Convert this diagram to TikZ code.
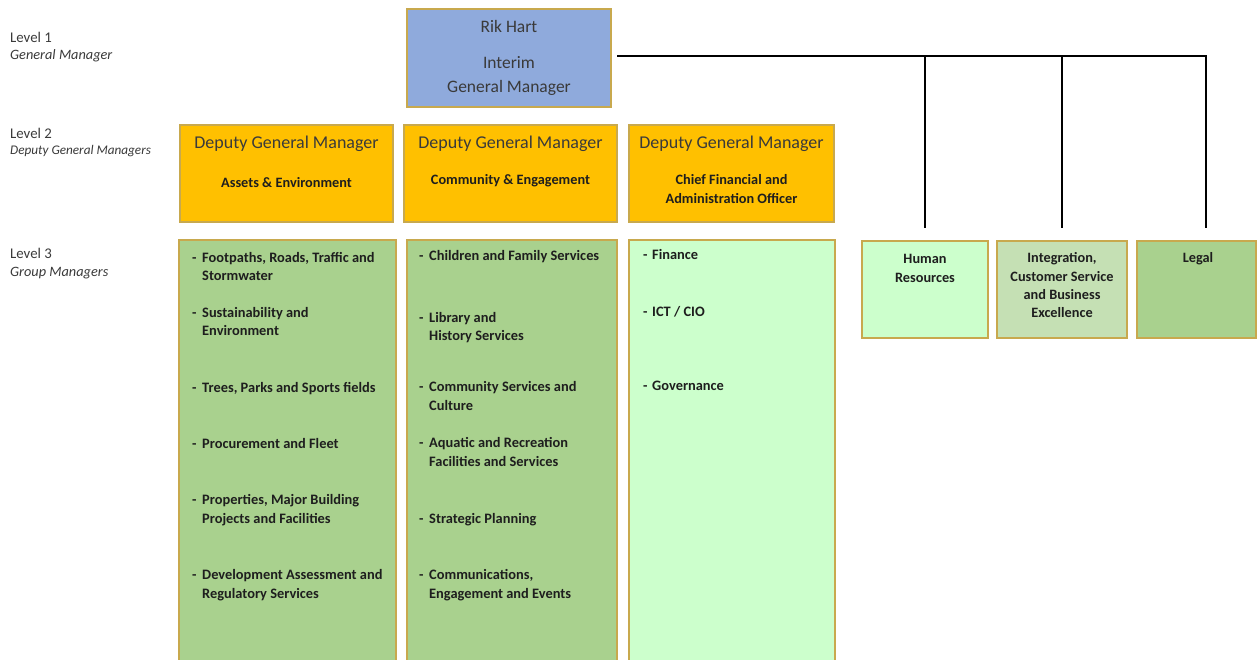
\documentclass[tikz,border=0pt]{standalone}
\usepackage{fontspec}
\setmainfont{Carlito}
\definecolor{bordc}{HTML}{C8A94E}
\definecolor{gmfill}{HTML}{8FAADC}
\definecolor{dgmfill}{HTML}{FFC000}
\definecolor{grn}{HTML}{A9D18E}
\definecolor{lgrn}{HTML}{CCFFCC}
\definecolor{mgrn}{HTML}{C5E0B4}
\definecolor{txtd}{HTML}{3A3A3A}
\definecolor{txtb}{HTML}{1E1E1E}
\newcommand\itemline[5]{\node[itm] (#1-d) at (#2,#4) {-};\node[itm] (#1) at (#3,#4) {#5};}
\newcommand\contline[4]{\node[itm] (#1) at (#2,#3) {#4};}
\begin{document}
\begin{tikzpicture}[x=1pt,y=-1pt,
  box/.style={draw=bordc, line width=1.2pt, inner sep=0pt, outer sep=0pt, anchor=north west},
  lvl/.style={font=\fontsize{14.8}{16}\selectfont, anchor=base west, inner sep=0pt, text=txtd},
  lvli/.style={font=\fontsize{14.3}{16}\selectfont\itshape, anchor=base west, inner sep=0pt, text=txtd},
  big/.style={font=\fontsize{18}{20}\selectfont, anchor=base, inner sep=0pt, text=txtd},
  sub/.style={font=\fontsize{14.3}{16}\selectfont\bfseries, anchor=base, inner sep=0pt, text=txtb},
  itm/.style={font=\fontsize{14.4}{16}\selectfont\bfseries, anchor=base west, inner sep=0pt, text=txtb},
  conn/.style={line width=2.4pt, black}]
\useasboundingbox (0,0) rectangle (1258,659);
\clip (0,0) rectangle (1258,659);
\fill[white] (0,0) rectangle (1258,659);

% level labels
\node[lvl] (l1) at (10,42) {Level 1};
\node[lvli] (l1s) at (10,59) {General Manager};
\node[lvl] (l2) at (10,138) {Level 2};
\node[lvli, font=\fontsize{13.2}{15}\selectfont\itshape] (l2s) at (10,154) {Deputy General Managers};
\node[lvl] (l3) at (10,258) {Level 3};
\node[lvli] (l3s) at (10,276) {Group Managers};

% level 1
\node[box, fill=gmfill, minimum width=204pt, minimum height=98pt] (gm) at (407,9) {};
\node[big, font=\fontsize{17.5}{20}\selectfont] (gm1) at (509,32) {Rik Hart};
\node[big, font=\fontsize{17.5}{20}\selectfont] (gm2) at (509,68) {Interim};
\node[big, font=\fontsize{17.5}{20}\selectfont] (gm3) at (509,92) {General Manager};

% level 2
\node[box, fill=dgmfill, minimum width=213pt, minimum height=97pt] (d1) at (180,125) {};
\node[box, fill=dgmfill, minimum width=213pt, minimum height=97pt] (d2) at (404,125) {};
\node[box, fill=dgmfill, minimum width=205pt, minimum height=97pt] (d3) at (629,125) {};
\node[big] (d1t) at (286.5,148) {Deputy General Manager};
\node[big] (d2t) at (510.5,148) {Deputy General Manager};
\node[big] (d3t) at (731.5,148) {Deputy General Manager};
\node[sub] (d1s) at (286.5,187) {Assets \& Environment};
\node[sub] (d2s) at (510.5,184) {Community \& Engagement};
\node[sub] (d3s) at (731.5,184) {Chief Financial and};
\node[sub] (d3s2) at (731.5,203) {Administration Officer};

% level 3 columns
\node[box, fill=grn, minimum width=217pt, minimum height=440pt] (g1) at (179,240) {};
\node[box, fill=grn, minimum width=210pt, minimum height=440pt] (g2) at (407,240) {};
\node[box, fill=lgrn, minimum width=206pt, minimum height=440pt] (g3) at (629,240) {};

\itemline{a1}{192}{202}{262}{Footpaths, Roads, Traffic and}
\contline{a1b}{202}{280}{Stormwater}
\itemline{a2}{192}{202}{317}{Sustainability and}
\contline{a2b}{202}{335}{Environment}
\itemline{a3}{192}{202}{392}{Trees, Parks and Sports fields}
\itemline{a4}{192}{202}{448}{Procurement and Fleet}
\itemline{a5}{192}{202}{504}{Properties, Major Building}
\contline{a5b}{202}{523}{Projects and Facilities}
\itemline{a6}{192}{202}{579}{Development Assessment and}
\contline{a6b}{202}{598}{Regulatory Services}

\itemline{b1}{419}{429}{260}{Children and Family Services}
\itemline{b2}{419}{429}{322}{Library and}
\contline{b2b}{429}{340}{History Services}
\itemline{b3}{419}{429}{391}{Community Services and}
\contline{b3b}{429}{410}{Culture}
\itemline{b4}{419}{429}{447}{Aquatic and Recreation}
\contline{b4b}{429}{466}{Facilities and Services}
\itemline{b5}{419}{429}{523}{Strategic Planning}
\itemline{b6}{419}{429}{579}{Communications,}
\contline{b6b}{429}{598}{Engagement and Events}

\itemline{c1}{643}{652}{259}{Finance}
\itemline{c2}{643}{652}{316}{ICT / CIO}
\itemline{c3}{643}{652}{390}{Governance}

% staff units
\node[box, fill=lgrn, minimum width=126pt, minimum height=97pt] (hr) at (862,241) {};
\node[box, fill=mgrn, minimum width=130pt, minimum height=97pt] (ig) at (997,241) {};
\node[box, fill=grn, minimum width=119pt, minimum height=97pt] (lg) at (1137,241) {};
\node[sub] (hr1) at (925,263) {Human};
\node[sub] (hr2) at (925,282) {Resources};
\node[sub] (ig1) at (1062,262) {Integration,};
\node[sub] (ig2) at (1062,281) {Customer Service};
\node[sub] (ig3) at (1062,299) {and Business};
\node[sub] (ig4) at (1062,317) {Excellence};
\node[sub] (lg1) at (1198,262) {Legal};

% connectors
\coordinate (hstart) at (617,56);
\coordinate (legtop) at (1206,228);
\draw[conn] (hstart) -| (legtop);
\draw[conn] (hr.north |- hstart) -- ([yshift=13pt]hr.north);
\draw[conn] (ig.north |- hstart) -- ([yshift=13pt]ig.north);
\end{tikzpicture}
\end{document}
